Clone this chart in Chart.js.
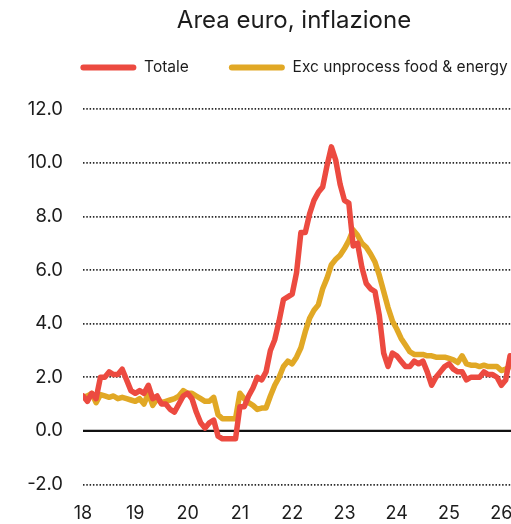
<!DOCTYPE html>
<html>
<head>
<meta charset="utf-8">
<script src="https://cdn.jsdelivr.net/npm/chart.js@4"></script>
<style>
  html, body { margin: 0; padding: 0; background: #fff; overflow: hidden; }
  #wrap { width: 588px; height: 524px; position: relative; }
</style>
</head>
<body>
<div id="wrap"><canvas id="grafico"></canvas></div>
<script>
// inflazione area euro, variazione annua %, mensile da gen-2018
const totale = [
  1.3, 1.1, 1.4, 1.2, 2.0, 2.0, 2.2, 2.1, 2.1, 2.3, 1.9, 1.5,
  1.4, 1.5, 1.4, 1.7, 1.2, 1.3, 1.0, 1.0, 0.8, 0.7, 1.0, 1.3,
  1.4, 1.2, 0.7, 0.3, 0.1, 0.3, 0.4, -0.2, -0.3, -0.3, -0.3, -0.3,
  0.9, 0.9, 1.3, 1.6, 2.0, 1.9, 2.2, 3.0, 3.4, 4.1, 4.9, 5.0,
  5.1, 5.9, 7.4, 7.4, 8.1, 8.6, 8.9, 9.1, 9.9, 10.6, 10.1, 9.2,
  8.6, 8.5, 6.9, 7.0, 6.1, 5.5, 5.3, 5.2, 4.3, 2.9, 2.4, 2.9,
  2.8, 2.6, 2.4, 2.4, 2.6, 2.5, 2.6, 2.2, 1.7, 2.0, 2.2, 2.4,
  2.5, 2.3, 2.2, 2.2, 1.9, 2.0, 2.0, 2.0, 2.2, 2.1, 2.1, 2.0,
  1.7, 1.9, 2.8
];
const core = [
  1.25, 1.3, 1.4, 1.05, 1.35, 1.3, 1.25, 1.3, 1.2, 1.25, 1.2, 1.15,
  1.1, 1.2, 1.0, 1.4, 0.95, 1.2, 1.05, 1.1, 1.15, 1.2, 1.3, 1.5,
  1.4, 1.4, 1.3, 1.2, 1.1, 1.1, 1.25, 0.6, 0.45, 0.45, 0.45, 0.45,
  1.4, 1.2, 1.05, 0.95, 0.8, 0.85, 0.85, 1.3, 1.7, 2.0, 2.4, 2.6,
  2.5, 2.75, 3.1, 3.7, 4.2, 4.5, 4.7, 5.3, 5.7, 6.2, 6.4, 6.55,
  6.8, 7.1, 7.5, 7.3, 7.0, 6.85, 6.6, 6.3, 5.8, 5.2, 4.6, 4.1,
  3.8, 3.45, 3.2, 2.95, 2.85, 2.85, 2.85, 2.8, 2.8, 2.75, 2.75, 2.75,
  2.7, 2.65, 2.55, 2.8, 2.5, 2.45, 2.45, 2.4, 2.45, 2.4, 2.4, 2.4,
  2.25, 2.3, 2.4
];
const nomiSerie = ["Totale", "Exc unprocess food & energy"];
const coloriSerie = ["#EC4A40", "#E1A825"];
const annoInizio = 2018;
const anniTicks = [2018, 2019, 2020, 2021, 2022, 2023, 2024, 2025, 2026];
const yTicks = [-2, 0, 2, 4, 6, 8, 10, 12];

// serie mensili -> punti {x: anno decimale, y}
const mensile = (arr) => arr.map((v, i) => ({ x: annoInizio + i / 12, y: v }));

const FONT = "Inter, 'Noto Sans', sans-serif";
const TXT = "#1c1c1c";

const lineaZero = {
  id: "lineaZero",
  beforeDatasetsDraw(chart) {
    const { ctx, chartArea, scales } = chart;
    const y = scales.y.getPixelForValue(0);
    ctx.save();
    ctx.strokeStyle = "#111";
    ctx.lineWidth = 2.2;
    ctx.beginPath();
    ctx.moveTo(chartArea.left, y);
    ctx.lineTo(chartArea.right, y);
    ctx.stroke();
    ctx.restore();
  },
};

const spazioLegenda = {
  id: "spazioLegenda",
  beforeInit(chart) {
    const fit = chart.legend.fit;
    chart.legend.fit = function () {
      fit.bind(chart.legend)();
      this.height += 24;
    };
  },
};

const ctx = document.getElementById("grafico");
new Chart(ctx, {
  type: "line",
  data: {
    datasets: [
      {
        label: nomiSerie[0],
        data: mensile(totale),
        borderColor: coloriSerie[0],
        backgroundColor: coloriSerie[0],
        borderWidth: 5.5,
        pointRadius: 0,
        borderJoinStyle: "round",
        borderCapStyle: "round",
      },
      {
        label: nomiSerie[1],
        data: mensile(core),
        borderColor: coloriSerie[1],
        backgroundColor: coloriSerie[1],
        borderWidth: 5.5,
        pointRadius: 0,
        borderJoinStyle: "round",
        borderCapStyle: "round",
      },
    ],
  },
  options: {
    responsive: true,
    maintainAspectRatio: false,
    animation: false,
    layout: { padding: { left: 26, right: 26, top: 0, bottom: -18 } },
    plugins: {
      title: {
        display: true,
        text: "Area euro, inflazione",
        color: TXT,
        font: { family: FONT, size: 24, weight: "normal" },
        padding: { top: 6, bottom: -15 },
      },
      legend: {
        labels: {
          color: TXT,
          font: { family: FONT, size: 15.5 },
          boxWidth: 56,
          boxHeight: 6,
          padding: 40,
          useBorderRadius: true,
          borderRadius: 3,
          generateLabels(chart) {
            return Chart.defaults.plugins.legend.labels
              .generateLabels(chart)
              .map((l) => ({ ...l, lineWidth: 0 }));
          },
        },
      },
      tooltip: { enabled: false },
    },
    scales: {
      x: {
        type: "linear",
        min: 2018,
        max: 2027.16,
        afterBuildTicks(scale) { scale.ticks = anniTicks.map((v) => ({ value: v })); },
        grid: { display: false, drawTicks: false },
        border: { display: false },
        ticks: {
          maxRotation: 0,
          padding: 18,
          color: TXT,
          font: { family: FONT, size: 18 },
          callback: (v) => String(v).slice(2),
        },
      },
      y: {
        min: -2,
        max: 12,
        afterFit(scale) { scale.width = 57; },
        afterBuildTicks(scale) { scale.ticks = yTicks.map((v) => ({ value: v })); },
        grid: {
          drawTicks: false,
          lineWidth: 1.7,
          color: (c) => (c.tick && c.tick.value === 0 ? "rgba(0,0,0,0)" : "#2a2a2a"),
        },
        border: { display: false, dash: [1.5, 1.8] },
        ticks: {
          padding: 20,
          color: TXT,
          font: { family: FONT, size: 18.5 },
          callback: (v) => v.toFixed(1),
        },
      },
    },
  },
  plugins: [lineaZero, spazioLegenda],
});
</script>
</body>
</html>
